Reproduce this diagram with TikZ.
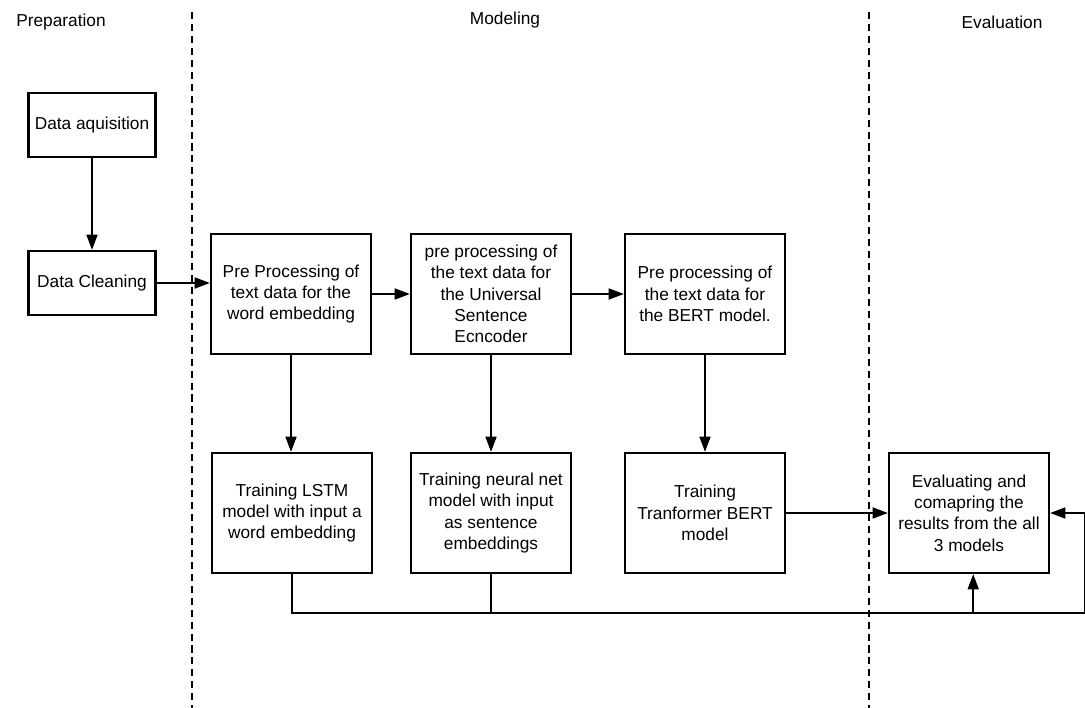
\documentclass[tikz,border=0pt]{standalone}
\usepackage{fontspec}
\setmainfont{Liberation Sans}
\usepackage{tikz}
\usetikzlibrary{arrows.meta}

\begin{document}
\begin{tikzpicture}[x=0.025cm, y=-0.025cm,
    every node/.style={font=\fontsize{12.3}{15.2}\selectfont},
    box/.style={draw, line width=1.5pt, align=center, minimum width=4cm, minimum height=3cm, inner sep=1pt},
    smallbox/.style={box, minimum width=3.175cm, minimum height=1.6cm},
    arr/.style={line width=1.5pt, -{Triangle[length=0.38cm, width=0.27cm]}},
    bus/.style={line width=1.5pt},
    phase/.style={dashed, line width=1pt, dash pattern=on 5pt off 3.5pt}]
    \useasboundingbox (0,0) rectangle (1085,708);
    % phase headers and separators
    \node (prep) at (61,22) {Preparation};
    \node (model) at (505,20) {Modeling};
    \node (evalh) at (1002,22) {Evaluation};
    \draw[phase] (192,12) -- (192,708);
    \draw[phase] (869,12) -- (869,708);
    % preparation
    \node[smallbox] (acq) at (92,125) {Data aquisition};
    \node[smallbox] (clean) at (92,283) {Data Cleaning};
    % pre processing row
    \node[box] (pre1) at (291,294) {Pre Processing of\\text data for the\\word embedding};
    \node[box] (pre2) at (491,294) {pre processing of\\the text data for\\the Universal\\Sentence\\Ecncoder};
    \node[box] (pre3) at (705,294) {Pre processing of\\the text data for\\the BERT model.};
    % training row
    \node[box] (lstm) at (292,513) {Training LSTM\\model with input a\\word embedding};
    \node[box] (nnet) at (491,513) {Training neural net\\model with input\\as sentence\\embeddings};
    \node[box] (bert) at (705,513) {Training\\Tranformer BERT\\model};
    \node[box] (eval) at (969,513) {Evaluating and\\comapring the\\results from the all\\3 models};
    \coordinate (busR) at (1085,613);
    % connectors
    \draw[arr] (acq) -- (clean);
    \draw[arr] (clean.east) -- (clean.east -| pre1.west);
    \draw[arr] (pre1) -- (pre2);
    \draw[arr] (pre2) -- (pre3);
    \draw[arr] (pre1) -- (pre1 |- lstm.north);
    \draw[arr] (pre2) -- (nnet);
    \draw[arr] (pre3) -- (bert);
    \draw[arr] (bert) -- (eval);
    \draw[arr] (lstm.south) |- (busR) |- (eval.east);
    \draw[bus] (nnet.south) -- (nnet.south |- busR);
    \draw[arr] ([xshift=3]eval.south |- busR) -- ([xshift=3]eval.south);
\end{tikzpicture}
\end{document}
